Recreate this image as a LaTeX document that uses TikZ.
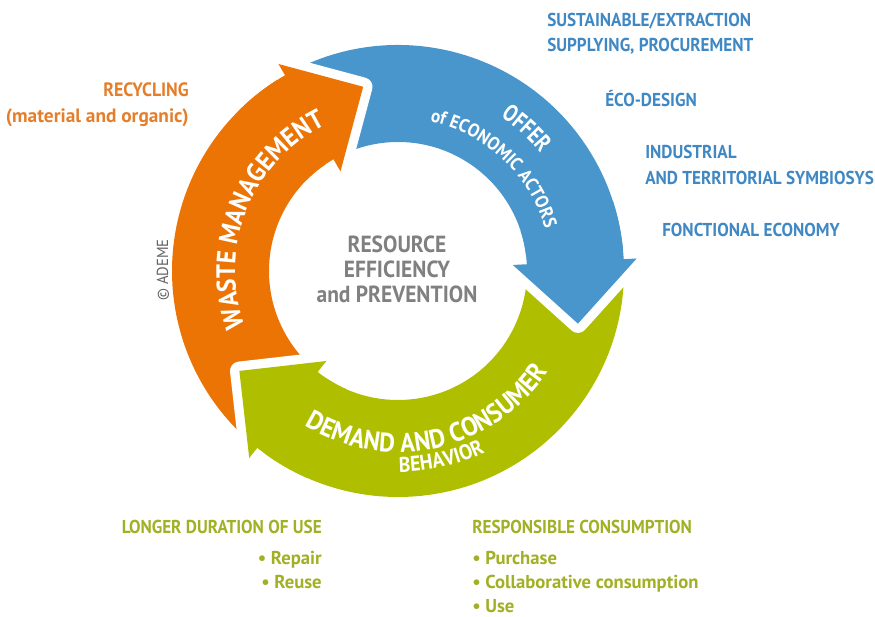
\documentclass[tikz,border=0pt]{standalone}
\usepackage{fontspec}
\setmainfont{PT Sans}[FakeStretch=0.92]
\newfontfamily\lowfam{PT Sans}[FakeStretch=1.0]
\newfontfamily\narrowfam{PT Sans}[FakeStretch=0.8]
\usepackage{tikz}
\usetikzlibrary{positioning,decorations.text}

\definecolor{wasteorange}{RGB}{236,116,4}
\definecolor{offerblue}{RGB}{73,150,205}
\definecolor{demandgreen}{RGB}{175,191,0}
\definecolor{recyorange}{RGB}{229,126,43}
\definecolor{listblue}{RGB}{64,136,196}
\definecolor{listgreen}{RGB}{161,176,36}
\definecolor{coregray}{RGB}{128,128,128}

\newcommand{\bandbig}{\bfseries\fontsize{20}{24}\selectfont}
\newcommand{\bandmid}{\narrowfam\bfseries\fontsize{18}{22}\selectfont}
\newcommand{\bandsmall}{\bfseries\fontsize{14}{17}\selectfont}

\begin{document}
\begin{tikzpicture}[
  x=0.75pt, y=0.75pt,
  core/.style={font=\bfseries\fontsize{17.5}{20}\selectfont, text=coregray, inner sep=0pt, anchor=base},
  bluelist/.style={font=\bfseries\fontsize{14}{17}\selectfont, text=listblue, inner sep=0pt, anchor=base west},
  orangelist/.style={font=\bfseries\fontsize{14.5}{17}\selectfont, text=recyorange, inner sep=0pt, anchor=base east},
  greenlist/.style={font=\bfseries\fontsize{14}{17}\selectfont, text=listgreen, inner sep=0pt},
  casing/.style={white, line width=14pt, line join=round},
  bandtext/.style={decorate, decoration={text along path, text align=center, text color=white, text={#1}}}
]
\useasboundingbox (-398,-346) rectangle (477,271);

% ---------- ring bodies ----------
\foreach \col/\from/\to in {wasteorange/231.5/120, offerblue/120/3, demandgreen/3/-128.5}
  \fill[\col] (\from:226) arc[start angle=\from, end angle=\to, radius=226]
    -- (\to:129) arc[start angle=\to, end angle=\from, radius=129] -- cycle;

% ---------- heads, cut into the next tail ----------
\foreach \col/\b in {wasteorange/120, offerblue/3, demandgreen/-128.5} {
  \draw[casing] (\b:239) -- ({\b-19.3}:187.5) -- (\b:115) -- cycle;
  \fill[\col] (\b:239) -- ({\b-19.3}:187.5) -- (\b:115) -- cycle;
  \fill[\col] ({\b+15}:226) arc[start angle=\b+15, end angle=\b-0.5, radius=226]
    -- ({\b-0.5}:129) arc[start angle=\b-0.5, end angle=\b+15, radius=129] -- cycle;
}

% ---------- labels on the ring ----------
\path[bandtext={|\bandbig|WASTE MANAGEMENT}] (205:163) arc[start angle=205, end angle=111, radius=163];
\path[bandtext={|\bandmid|OFFER}] (75:185) arc[start angle=75, end angle=21, radius=185];
\path[bandtext={|\bandsmall|of ECONOMIC ACTORS}] (92:153) arc[start angle=92, end angle=2, radius=153];
\path[bandtext={|\bandbig|DEMAND AND CONSUMER}] (225:181) arc[start angle=225, end angle=340, radius=181];
\path[bandtext={|\bfseries\fontsize{16}{19}\selectfont|BEHAVIOR}] (255:201) arc[start angle=255, end angle=311, radius=201];

% ---------- centre ----------
\node[core] (res) at (-1,18.5) {RESOURCE};
\node[core] (eff) at (-1,-6.5) {EFFICIENCY};
\node[core] (prev) at (-1,-31.5) {and PREVENTION};

\node[rotate=90, text=black!62, font=\fontsize{12}{14}\selectfont] (ademe) at (-235,1) {© ADEME};

% ---------- offer side ----------
\node[bluelist] (sust) at (149,244) {SUSTAINABLE/EXTRACTION};
\node[bluelist] (supp) at (149,219) {SUPPLYING, PROCUREMENT};
\node[bluelist] (eco) at (207,164) {ÉCO-DESIGN};
\node[bluelist] (indus) at (247,112) {INDUSTRIAL};
\node[bluelist] (terr) at (247,86) {AND TERRITORIAL SYMBIOSYS};
\node[bluelist] (fonc) at (264,34) {FONCTIONAL ECONOMY};

% ---------- recycling ----------
\node[orangelist] (recy) at (-209,174) {RECYCLING};
\node[orangelist] (mat) at (-209,148) {\lowfam (material and organic)};

% ---------- demand side ----------
\node[greenlist, anchor=base east] (longer) at (-76,-262.5) {LONGER DURATION OF USE};
\node[greenlist, anchor=base east] (repair) at (-76,-293.5) {\lowfam • Repair};
\node[greenlist, anchor=base east] (reuse) at (-76,-317.5) {\lowfam • Reuse};
\node[greenlist, anchor=base west] (resp) at (74,-262.5) {RESPONSIBLE CONSUMPTION};
\node[greenlist, anchor=base west] (purch) at (74,-293.5) {\lowfam • Purchase};
\node[greenlist, anchor=base west] (collab) at (74,-317.5) {\lowfam • Collaborative consumption};
\node[greenlist, anchor=base west] (use) at (74,-341.5) {\lowfam • Use};
\end{tikzpicture}
\end{document}
